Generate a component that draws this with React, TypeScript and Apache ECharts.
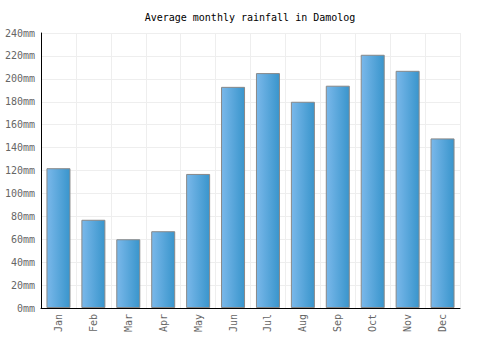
import React, { useEffect, useRef } from "react";
import * as echarts from "echarts";

const months = ["Jan", "Feb", "Mar", "Apr", "May", "Jun", "Jul", "Aug", "Sep", "Oct", "Nov", "Dec"];
const rainfall = [122, 77, 60, 67, 117, 193, 205, 180, 194, 221, 207, 148];
const title = "Average monthly rainfall in Damolog";

export default function App() {
  const ref = useRef<HTMLDivElement>(null);
  useEffect(() => {
    const chart = echarts.init(ref.current!, null, { renderer: "svg" });
    const mono = "'DejaVu Sans Mono', monospace";
    chart.setOption({
      animation: false,
      backgroundColor: "#ffffff",
      title: {
        text: title,
        left: "center",
        top: 7,
        textStyle: { fontFamily: mono, fontSize: 10, fontWeight: "normal", color: "#000" },
      },
      grid: { left: 41, right: 40, top: 33, bottom: 42, containLabel: false },
      xAxis: {
        type: "category",
        data: months,
        boundaryGap: true,
        axisLine: { show: true, lineStyle: { color: "#000", width: 1 } },
        axisTick: { show: false },
        splitLine: { show: true, lineStyle: { color: "#eeeeee", width: 1 } },
        axisLabel: {
          rotate: 90,
          margin: 6,
          interval: 0,
          fontFamily: mono,
          fontSize: 10,
          color: "#666",
        },
      },
      yAxis: {
        type: "value",
        min: 0,
        max: 240,
        interval: 20,
        axisLine: { show: true, lineStyle: { color: "#000", width: 1 } },
        axisTick: { show: false },
        splitLine: { show: true, lineStyle: { color: "#eeeeee", width: 1 } },
        axisLabel: {
          formatter: "{value}mm",
          margin: 6,
          fontFamily: mono,
          fontSize: 10,
          color: "#666",
        },
      },
      series: [
        {
          type: "bar",
          data: rainfall,
          barWidth: 24,
          itemStyle: {
            borderColor: "#888888",
            borderWidth: 1,
            color: new echarts.graphic.LinearGradient(0, 0, 1, 0, [
              { offset: 0, color: "#7ab8ea" },
              { offset: 1, color: "#3995cc" },
            ]),
          },
        },
      ],
    });
    return () => chart.dispose();
  }, []);
  return <div ref={ref} style={{ width: 500, height: 350, position: "absolute", left: 0, top: 0 }} />;
}
